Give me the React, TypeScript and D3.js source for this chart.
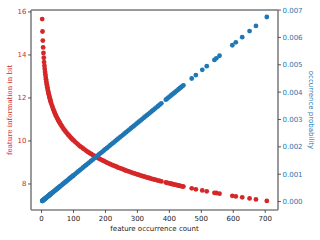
import { useEffect, useRef } from "react";
import * as d3 from "d3";

// feature occurrence counts (x)
const counts = [
  2, 3, 4, 5, 6, 7, 8, 9, 10, 11, 12, 13, 14, 15, 16, 17, 18, 19, 20, 21, 22,
  23, 24, 25, 26, 27, 28, 29, 30,
  32, 34, 36, 38, 40, 42, 44, 46, 48, 50, 52, 54, 56, 58, 60,
  63, 66, 69, 72, 75, 78, 81, 84, 87, 90, 93, 96, 99,
  100, 105, 110, 115, 120, 125, 130, 135, 140, 145, 150, 155, 160, 165, 170,
  175, 180, 185, 190, 195, 200, 205, 210, 215, 220, 225, 230, 235, 240, 245,
  250, 255, 260, 265, 270, 275, 280, 285, 290, 295, 300, 305, 310, 315, 320,
  325, 330, 335, 340, 345, 350, 355, 360, 365, 370, 375,
  389, 393, 397, 401, 405, 409, 413, 417, 421, 425, 429, 433, 437, 441, 444,
  470, 483, 503, 517, 541, 547, 557, 597, 608, 628, 651, 671, 705,
];

// information in bit (left axis, red)
const infoBits = [
  15.67, 15.09, 14.67, 14.35, 14.09, 13.87, 13.67, 13.5, 13.35, 13.21, 13.09,
  12.97, 12.87, 12.77, 12.67, 12.59, 12.5, 12.43, 12.35, 12.28, 12.21, 12.15,
  12.09, 12.03, 11.97, 11.92, 11.86, 11.81, 11.76,
  11.67, 11.59, 11.5, 11.43, 11.35, 11.28, 11.21, 11.15, 11.09, 11.03, 10.97,
  10.92, 10.87, 10.82, 10.76,
  10.7, 10.63, 10.56, 10.5, 10.44, 10.39, 10.33, 10.28, 10.23, 10.18, 10.13,
  10.09, 10.04,
  10.03, 9.96, 9.89, 9.83, 9.76, 9.71, 9.65, 9.6, 9.54, 9.49, 9.44, 9.4, 9.35,
  9.31, 9.26, 9.22, 9.18, 9.14, 9.1, 9.07, 9.03, 8.99, 8.96, 8.92, 8.89, 8.86,
  8.83, 8.8, 8.76, 8.74, 8.71, 8.68, 8.65, 8.62, 8.6, 8.57, 8.54, 8.52, 8.49,
  8.47, 8.44, 8.42, 8.39, 8.37, 8.35, 8.33, 8.3, 8.29, 8.26, 8.24, 8.22, 8.2,
  8.18, 8.16, 8.14, 8.12,
  8.07, 8.05, 8.04, 8.03, 8.01, 8.0, 7.98, 7.97, 7.96, 7.94, 7.93, 7.91, 7.9,
  7.89, 7.88,
  7.8, 7.75, 7.7, 7.66, 7.59, 7.58, 7.55, 7.45, 7.42, 7.38, 7.33, 7.28, 7.21,
];

// occurrence probability (right axis, blue)
const probs = [
  1.91e-5, 2.87e-5, 3.83e-5, 4.79e-5, 5.74e-5, 6.7e-5, 7.66e-5, 8.61e-5,
  9.57e-5, 10.53e-5, 11.48e-5, 12.44e-5, 13.4e-5, 14.36e-5, 15.31e-5,
  16.27e-5, 17.23e-5, 18.18e-5, 19.14e-5, 20.1e-5, 21.05e-5, 22.01e-5,
  22.97e-5, 23.93e-5, 24.88e-5, 25.84e-5, 26.8e-5, 27.75e-5, 28.71e-5,
  30.62e-5, 32.54e-5, 34.45e-5, 36.37e-5, 38.28e-5, 40.19e-5, 42.11e-5,
  44.02e-5, 45.94e-5, 47.85e-5, 49.76e-5, 51.68e-5, 53.59e-5, 55.51e-5,
  57.42e-5,
  60.29e-5, 63.16e-5, 66.03e-5, 68.9e-5, 71.78e-5, 74.65e-5, 77.52e-5,
  80.39e-5, 83.26e-5, 86.13e-5, 89.0e-5, 91.87e-5, 94.74e-5,
  95.7e-5, 100.49e-5, 105.27e-5, 110.06e-5, 114.84e-5, 119.63e-5, 124.41e-5,
  129.2e-5, 133.98e-5, 138.77e-5, 143.55e-5, 148.34e-5, 153.12e-5, 157.91e-5,
  162.69e-5, 167.48e-5, 172.26e-5, 177.05e-5, 181.83e-5, 186.62e-5, 191.4e-5,
  196.19e-5, 200.97e-5, 205.76e-5, 210.54e-5, 215.33e-5, 220.11e-5, 224.9e-5,
  229.68e-5, 234.47e-5, 239.25e-5, 244.04e-5, 248.82e-5, 253.61e-5, 258.39e-5,
  263.18e-5, 267.96e-5, 272.75e-5, 277.53e-5, 282.32e-5, 287.1e-5, 291.89e-5,
  296.67e-5, 301.46e-5, 306.24e-5, 311.03e-5, 315.81e-5, 320.6e-5, 325.38e-5,
  330.17e-5, 334.95e-5, 339.74e-5, 344.52e-5, 349.31e-5, 354.09e-5, 358.88e-5,
  372.27e-5, 376.1e-5, 379.93e-5, 383.76e-5, 387.59e-5, 391.41e-5, 395.24e-5,
  399.07e-5, 402.9e-5, 406.73e-5, 410.55e-5, 414.38e-5, 418.21e-5, 422.04e-5,
  424.91e-5,
  449.79e-5, 462.23e-5, 481.37e-5, 494.77e-5, 517.74e-5, 523.48e-5, 533.05e-5,
  571.33e-5, 581.86e-5, 601.0e-5, 623.01e-5, 642.15e-5, 674.69e-5,
];

const xTicks = [0, 100, 200, 300, 400, 500, 600, 700];
const leftTicks = [8, 10, 12, 14, 16];
const rightTicks = [0, 0.001, 0.002, 0.003, 0.004, 0.005, 0.006, 0.007];

const RED = "#d62728";
const BLUE = "#1f77b4";

function App() {
  const ref = useRef<SVGSVGElement | null>(null);

  useEffect(() => {
    const svg = d3.select(ref.current);
    svg.selectAll("*").remove();

    const left = 31, right = 278, top = 10, bottom = 210;

    const x = d3.scaleLinear().domain([-33, 740]).range([left, right]);
    const yL = d3.scaleLinear().domain([6.79, 16.09]).range([bottom, top]);
    const yR = d3.scaleLinear().domain([-0.000309, 0.007002]).range([bottom, top]);

    const font = "DejaVu Sans, sans-serif";

    // red points (information)
    svg
      .append("g")
      .selectAll("circle")
      .data(counts)
      .enter()
      .append("circle")
      .attr("cx", (d) => x(d))
      .attr("cy", (_d, i) => yL(infoBits[i]))
      .attr("r", 2.4)
      .attr("fill", RED);

    // blue points (probability), drawn on top
    svg
      .append("g")
      .selectAll("circle")
      .data(counts)
      .enter()
      .append("circle")
      .attr("cx", (d) => x(d))
      .attr("cy", (_d, i) => yR(probs[i]))
      .attr("r", 2.4)
      .attr("fill", BLUE);

    // spines
    svg.append("line").attr("x1", left).attr("x2", right).attr("y1", top).attr("y2", top)
      .attr("stroke", "#000").attr("stroke-width", 0.8);
    svg.append("line").attr("x1", left).attr("x2", right).attr("y1", bottom).attr("y2", bottom)
      .attr("stroke", "#808080").attr("stroke-width", 1.6);
    svg.append("line").attr("x1", left).attr("x2", left).attr("y1", top).attr("y2", bottom)
      .attr("stroke", "#808080").attr("stroke-width", 1.6);
    svg.append("line").attr("x1", right).attr("x2", right).attr("y1", top).attr("y2", bottom)
      .attr("stroke", "#808080").attr("stroke-width", 1.6);

    // x axis
    const gx = svg.append("g").attr("transform", `translate(0,${bottom})`);
    xTicks.forEach((t) => {
      gx.append("line").attr("x1", x(t)).attr("x2", x(t)).attr("y1", 0).attr("y2", 3)
        .attr("stroke", "#333").attr("stroke-width", 0.8);
      gx.append("text").attr("x", x(t)).attr("y", 11).attr("text-anchor", "middle")
        .attr("font-family", font).attr("font-size", 7).attr("fill", "#222").text(t);
    });
    svg.append("text").attr("x", (left + right) / 2).attr("y", 231)
      .attr("text-anchor", "middle").attr("font-family", font).attr("font-size", 7)
      .attr("fill", "#222").text("feature occurrence count");

    // left axis
    leftTicks.forEach((t) => {
      svg.append("line").attr("x1", left - 3).attr("x2", left).attr("y1", yL(t)).attr("y2", yL(t))
        .attr("stroke", "#333").attr("stroke-width", 0.8);
      svg.append("text").attr("x", left - 4.5).attr("y", yL(t)).attr("dy", "0.35em")
        .attr("text-anchor", "end").attr("font-family", font).attr("font-size", 7)
        .attr("fill", RED).text(t);
    });
    svg.append("text").attr("transform", `translate(12,${(top + bottom) / 2}) rotate(-90)`)
      .attr("text-anchor", "middle").attr("font-family", "DejaVu Serif, serif")
      .attr("font-size", 7).attr("fill", RED).text("feature information in bit");

    // right axis
    rightTicks.forEach((t) => {
      svg.append("line").attr("x1", right).attr("x2", right + 3).attr("y1", yR(t)).attr("y2", yR(t))
        .attr("stroke", "#333").attr("stroke-width", 0.8);
      svg.append("text").attr("x", right + 4.5).attr("y", yR(t)).attr("dy", "0.35em")
        .attr("text-anchor", "start").attr("font-family", font).attr("font-size", 7)
        .attr("fill", BLUE).text(d3.format(".3f")(t));
    });
    svg.append("text").attr("transform", `translate(309,${(top + bottom) / 2}) rotate(90)`)
      .attr("text-anchor", "middle").attr("font-family", font)
      .attr("font-size", 7).attr("fill", BLUE).text("occurrence probability");
  }, []);

  return (
    <svg
      ref={ref}
      width={320}
      height={240}
      style={{ position: "absolute", left: 0, top: 0, background: "#fff" }}
    />
  );
}

export default App;
